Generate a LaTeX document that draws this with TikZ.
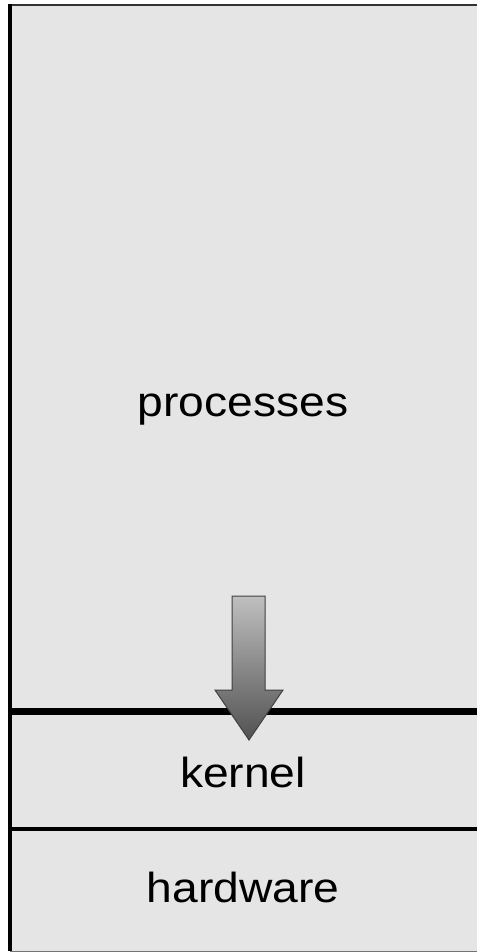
\documentclass[tikz,border=0pt]{standalone}
\usepackage{fontspec}
\setmainfont{Liberation Sans}
\begin{document}
\begin{tikzpicture}[x=1pt,y=-1pt,
  lbl/.style={font=\fontsize{42}{50}\selectfont, xscale=1.1, anchor=base, inner sep=0pt},
  arrowshape/.style={draw=black!75, line width=1pt, top color=black!25, bottom color=black!68, line join=miter}]
\useasboundingbox (0,0) rectangle (477,952);
\fill[white] (0,0) rectangle (477,952);
% grey body
\fill[black!10] (10,5) rectangle (477,951);
% borders
\draw[black!80, line width=2pt] (9,5) -- (477,5);
\draw[black, line width=4pt] (10,4) -- (10,951);
\draw[black!55, line width=1pt] (10,951) -- (477,951);
\draw[black, line width=7pt] (8,711.5) -- (477,711.5);
\draw[black, line width=4pt] (8,828.5) -- (477,828.5);
% labels
\node[lbl] (proc) at (243,416) {processes};
\node[lbl] (kern) at (243,787) {kernel};
\node[lbl] (hard) at (243,902) {hardware};
% block arrow
\path[arrowshape] (232,596) -- (265,596) -- (265,690) -- (283,690) -- (249,740) -- (215,690) -- (232,690) -- cycle;
\end{tikzpicture}
\end{document}
